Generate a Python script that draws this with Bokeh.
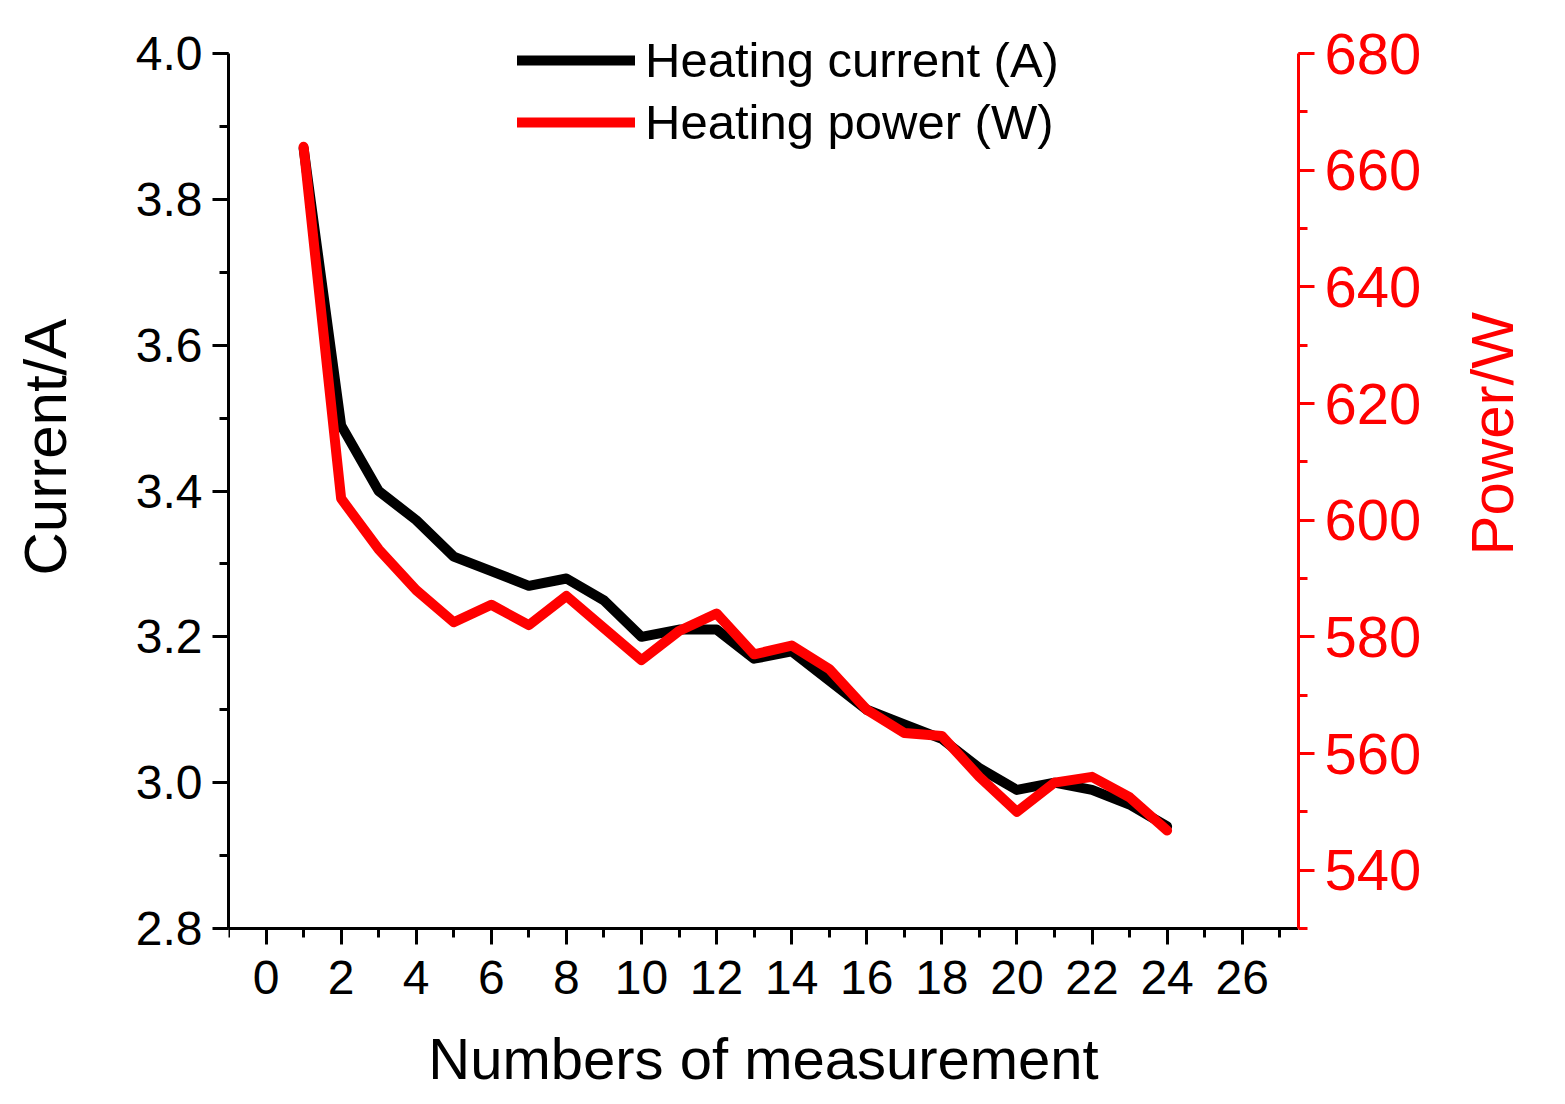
import math
from bokeh.plotting import figure
from bokeh.models import (Range1d, LinearAxis, FixedTicker, PrintfTickFormatter,
                          Legend, LegendItem)
from bokeh.embed import file_html
from bokeh.resources import INLINE

# ---- data ----
measurement = list(range(1, 25))
current_a = [3.87, 3.49, 3.40, 3.36, 3.31, 3.29, 3.27, 3.28, 3.25, 3.20, 3.21, 3.21,
             3.17, 3.18, 3.14, 3.10, 3.08, 3.06, 3.02, 2.99, 3.00, 2.99, 2.97, 2.94]
power_w = [664, 603.7, 595, 588, 582.5, 585.5, 582, 587, 581.5, 576, 581, 584,
           577, 578.5, 574.5, 567.5, 563.5, 563, 556, 550, 555, 556, 552.5, 546.8]
x_ticks = list(range(0, 27, 2))
x_minor = list(range(-1, 28, 2))
left_ticks = [2.8, 3.0, 3.2, 3.4, 3.6, 3.8, 4.0]
left_minor = [2.8 + 0.1 * i for i in range(13)]
right_ticks = list(range(540, 681, 20))
right_minor = list(range(530, 681, 10))

FONT = "Liberation Sans"
RED = "#ff0000"
NBSP = "\u00a0"

# Layout: the frame runs from y=10 to y=1100 (room for the legend above and
# the bottom axis inside); the plotted axes span y=53 (4.0 / 680) .. y=928 (2.8 / 530)
H = 1102
W = 1565
FRAME_TOP, FRAME_BOTTOM = 10, 1100
AX_TOP, AX_BOTTOM = 53, 928
k_left = (4.0 - 2.8) / (AX_BOTTOM - AX_TOP)
k_right = (680 - 530) / (AX_BOTTOM - AX_TOP)
left_range = (2.8 - (FRAME_BOTTOM - AX_BOTTOM) * k_left, 4.0 + (AX_TOP - FRAME_TOP) * k_left)
right_range = (530 - (FRAME_BOTTOM - AX_BOTTOM) * k_right, 680 + (AX_TOP - FRAME_TOP) * k_right)

p = figure(width=W, height=H, output_backend="svg", toolbar_location=None,
           x_range=Range1d(-1, 27.5), y_range=Range1d(*left_range),
           min_border_left=228, min_border_right=W - 1298, min_border_top=FRAME_TOP,
           min_border_bottom=H - FRAME_BOTTOM)
p.outline_line_color = None
p.xgrid.visible = False
p.ygrid.visible = False
p.extra_y_ranges = {"power": Range1d(*right_range)}

def style_axis(ax, color, tick_size, label_size):
    ax.axis_line_color = color
    ax.axis_line_width = 3
    ax.major_tick_line_color = color
    ax.major_tick_line_width = 3
    ax.minor_tick_line_color = color
    ax.minor_tick_line_width = 3
    ax.major_tick_out = 16
    ax.major_tick_in = 0
    ax.minor_tick_out = 9
    ax.minor_tick_in = 0
    ax.major_label_text_font = FONT
    ax.major_label_text_font_size = tick_size
    ax.major_label_text_color = color
    ax.axis_label_text_font = FONT
    ax.axis_label_text_font_size = label_size
    ax.axis_label_text_color = color
    ax.axis_label_text_font_style = "normal"

# bottom axis, pinned at 2.8
xa = p.xaxis[0]
xa.ticker = FixedTicker(ticks=x_ticks, minor_ticks=x_minor)
xa.fixed_location = 2.8
xa.axis_label = "Numbers of measurement"
style_axis(xa, "black", "48px", "58px")
xa.major_label_standoff = 16
xa.axis_label_standoff = 29

# left axis
ya = p.yaxis[0]
ya.ticker = FixedTicker(ticks=left_ticks, minor_ticks=left_minor)
ya.formatter = PrintfTickFormatter(format="%.1f")
ya.bounds = (2.8, 4.0)
ya.axis_label = NBSP * 13 + "Current/A"
style_axis(ya, "black", "48px", "60px")
ya.major_label_standoff = 10
ya.axis_label_standoff = 54

# right axis
ra = LinearAxis(y_range_name="power", axis_label="Power/W")
ra.ticker = FixedTicker(ticks=right_ticks, minor_ticks=right_minor)
ra.bounds = (530, 680)
style_axis(ra, RED, "58px", "60px")
ra.major_label_standoff = 10
ra.axis_label_standoff = 68
ra.axis_label_text_line_height = 1.0
ra.axis_label_orientation = math.pi / 2
p.add_layout(ra, "right")

r1 = p.line(measurement, current_a, line_color="black", line_width=10,
            line_join="round", line_cap="round")
r2 = p.line(measurement, power_w, line_color=RED, line_width=10,
            line_join="round", line_cap="round", y_range_name="power")

# legend bottom edge at y=150 of the page (measured from the frame bottom)
legend = Legend(items=[LegendItem(label="Heating current (A)", renderers=[r1]),
                       LegendItem(label="Heating power (W)", renderers=[r2])],
                location=(289, FRAME_BOTTOM - 150), orientation="vertical")
legend.label_text_font = FONT
legend.label_text_font_size = "49px"
legend.label_text_color = "black"
legend.glyph_width = 118
legend.glyph_height = 56
legend.label_height = 56
legend.spacing = 6
legend.padding = 0
legend.margin = 0
legend.label_standoff = 10
legend.border_line_color = None
legend.background_fill_alpha = 0
p.add_layout(legend, "center")

open("out.html", "w").write(file_html(p, INLINE))
